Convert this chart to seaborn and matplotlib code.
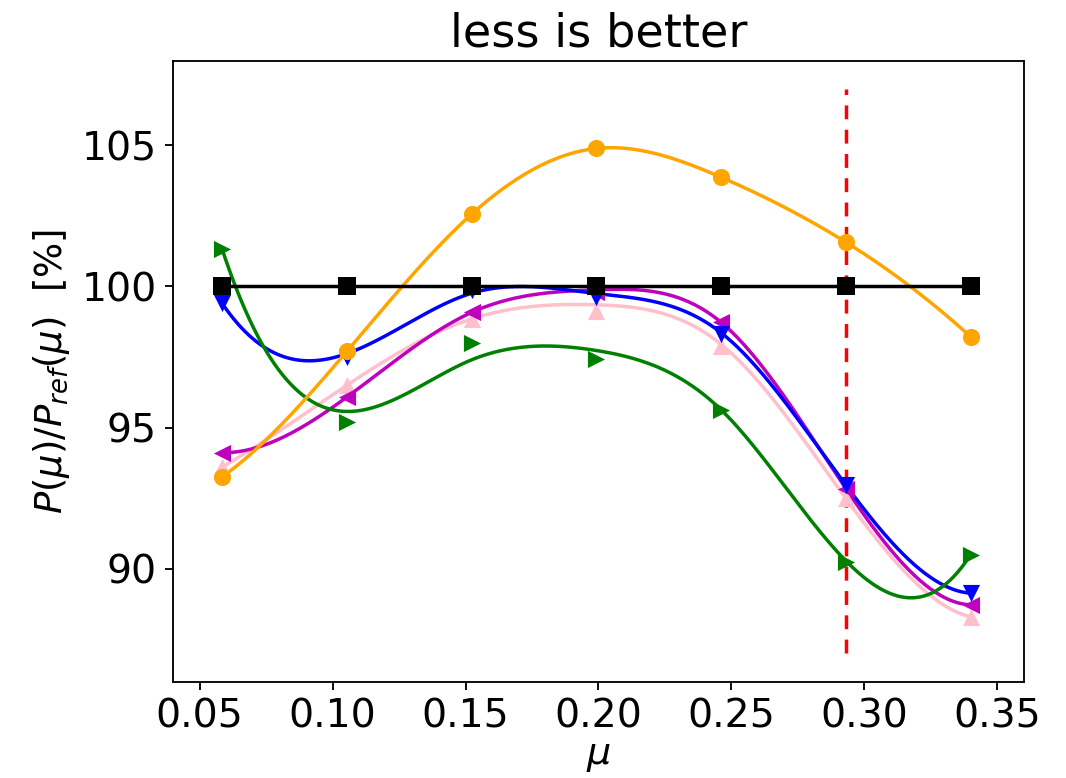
import numpy as np
import pandas as pd
import matplotlib
matplotlib.use("Agg")
import matplotlib.pyplot as plt
import seaborn as sns

mu = [0.0585, 0.1054, 0.1523, 0.1992, 0.2461, 0.2930, 0.3399]

# marker values
ref_vals = [100, 100, 100, 100, 100, 100, 100]
orange_vals = [93.25, 97.70, 102.56, 104.89, 103.87, 101.57, 98.22]
blue_vals = [99.40, 97.49, 99.87, 99.61, 98.32, 92.96, 89.13]
green_vals = [101.32, 95.20, 97.99, 97.43, 95.63, 90.25, 90.49]
magenta_vals = [94.11, 96.08, 99.08, 99.82, 98.73, 92.84, 88.72]
pink_vals = [93.60, 96.50, 98.85, 99.14, 97.90, 92.49, 88.29]

# values where the smooth curves pass at each mu
ref_curve = [100, 100, 100, 100, 100, 100, 100]
orange_curve = [93.25, 97.70, 102.56, 104.89, 103.87, 101.57, 98.22]
blue_curve = [99.40, 97.62, 99.76, 99.75, 98.36, 92.96, 89.13]
green_curve = [101.32, 95.57, 97.40, 97.73, 95.63, 90.28, 90.49]
magenta_curve = [94.11, 96.08, 99.08, 99.88, 98.73, 92.84, 88.72]
pink_curve = [93.60, 96.50, 98.85, 99.35, 97.95, 92.49, 88.29]

vline_x = 0.293
vline_y = [87, 107]


def notaknot_spline(x, y, xs):
    x = np.asarray(x, float)
    y = np.asarray(y, float)
    n = len(x)
    m = n - 1
    A = np.zeros((4 * m, 4 * m))
    b = np.zeros(4 * m)
    r = 0
    for i in range(m):
        h = x[i + 1] - x[i]
        A[r, 4 * i] = 1; b[r] = y[i]; r += 1
        A[r, 4 * i:4 * i + 4] = [1, h, h ** 2, h ** 3]; b[r] = y[i + 1]; r += 1
    for i in range(m - 1):
        h = x[i + 1] - x[i]
        A[r, 4 * i:4 * i + 4] = [0, 1, 2 * h, 3 * h ** 2]
        A[r, 4 * (i + 1) + 1] = -1; r += 1
        A[r, 4 * i:4 * i + 4] = [0, 0, 2, 6 * h]
        A[r, 4 * (i + 1) + 2] = -2; r += 1
    A[r, 3] = 1; A[r, 7] = -1; r += 1
    A[r, 4 * (m - 2) + 3] = 1; A[r, 4 * (m - 1) + 3] = -1; r += 1
    c = np.linalg.solve(A, b)
    idx = np.clip(np.searchsorted(x, xs, side="right") - 1, 0, m - 1)
    t = xs - x[idx]
    return c[4 * idx] + c[4 * idx + 1] * t + c[4 * idx + 2] * t ** 2 + c[4 * idx + 3] * t ** 3


series = [
    (pink_vals, pink_curve, "pink", "^"),
    (magenta_vals, magenta_curve, "m", "<"),
    (blue_vals, blue_curve, "b", "v"),
    (green_vals, green_curve, "g", ">"),
    (orange_vals, orange_curve, "orange", "o"),
    (ref_vals, ref_curve, "k", "s"),
]

DPI = 166.5
fig = plt.figure(figsize=(1066 / DPI, 778 / DPI), dpi=DPI)
ax = fig.add_axes([0.162, 0.124, 0.7986, 0.798])

xs = np.linspace(mu[0], mu[-1], 400)
for vals, cvals, col, mk in series:
    ys = notaknot_spline(mu, cvals, xs)
    df_curve = pd.DataFrame({"x": xs, "y": ys})
    sns.lineplot(data=df_curve, x="x", y="y", color=col, lw=1.5, sort=False,
                 estimator=None, ax=ax)
    df_pts = pd.DataFrame({"x": mu, "y": vals})
    sns.scatterplot(data=df_pts, x="x", y="y", color=col, marker=mk, s=55,
                    edgecolor=col, linewidth=0, ax=ax, zorder=3)

sns.lineplot(x=[vline_x, vline_x], y=vline_y, color="r", lw=1.5,
             linestyle="--", estimator=None, ax=ax)
ax.lines[-1].set_dashes([4, 3])

ax.set_xlim(0.0399, 0.360)
ax.set_ylim(86, 108)
ax.set_xticks([0.05, 0.10, 0.15, 0.20, 0.25, 0.30, 0.35])
ax.set_yticks([90, 95, 100, 105])
ax.tick_params(labelsize=17)
ax.set_xlabel(r"$\mu$", fontsize=16.5, labelpad=1)
ax.set_ylabel(r"$P(\mu)/P_{ref}(\mu)$  [%]", fontsize=16)
ax.set_title("less is better", fontsize=20)

fig.savefig("out.png", dpi=DPI)
